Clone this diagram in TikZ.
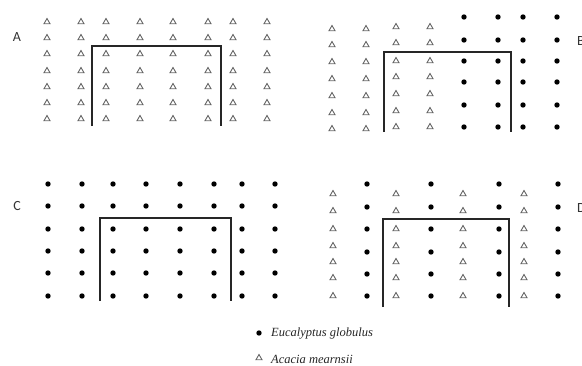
\documentclass[tikz,border=0pt]{standalone}
\usepackage{fontspec}
\setmainfont{Liberation Serif}
\newfontfamily\labelfont{Carlito}
\usetikzlibrary{shapes.geometric}
\tikzset{
  euc/.style={circle,fill=black,inner sep=0pt,minimum size=5.4pt},
  aca/.style={regular polygon,regular polygon sides=3,draw=black!60,line width=0.9pt,inner sep=0pt,minimum size=7pt},
  plot/.style={draw=black!85,line width=2.5pt,line cap=butt},
  panel/.style={font=\labelfont\fontsize{14}{16}\selectfont,text=black!80,inner sep=0pt},
  legend/.style={font=\itshape\fontsize{12.5}{15}\selectfont,anchor=west,inner sep=0pt,text=black!85}
}
\begin{document}
\begin{tikzpicture}[x=1pt,y=-1pt]
\useasboundingbox (0,0) rectangle (582,365);
\clip (0,0) rectangle (582,365);
% panel A: all Acacia
\foreach \x in {47,81,106,140,173,208,233,267}
  \foreach \y in {22,38,54,71,87,103,119}
    \node[aca] at (\x,\y) {};
\draw[plot] (92,126) |- (221,46) -- (221,126);
\node[panel] (labA) at (17,37) {A};
% panel B: Acacia on the left, Eucalyptus on the right
\foreach \x in {332,366}
  \foreach \y in {29,45,62,79,96,113,129}
    \node[aca] at (\x,\y) {};
\foreach \x in {396,430}
  \foreach \y in {27,43,61,77,94,111,127}
    \node[aca] at (\x,\y) {};
\foreach \x in {464,498,523,557}
  \foreach \y in {17,40,61,82,105,127}
    \node[euc] at (\x,\y) {};
\draw[plot] (384,132) |- (511,52) -- (511,132);
\node[panel,anchor=west] (labB) at (577,41) {B};
% panel C: all Eucalyptus
\foreach \x in {48,82,113,146,180,214,242,275}
  \foreach \y in {184,206,229,251,273,296}
    \node[euc] at (\x,\y) {};
\draw[plot] (100,301) |- (231,218) -- (231,301);
\node[panel] (labC) at (17,206) {C};
% panel D: alternating columns
\foreach \x in {333,396,463,524}
  \foreach \y in {194,211,229,246,262,278,296}
    \node[aca] at (\x,\y) {};
\foreach \x in {367,431,499,558}
  \foreach \y in {184,207,229,252,274,296}
    \node[euc] at (\x,\y) {};
\draw[plot] (383,307) |- (509,219) -- (509,307);
\node[panel,anchor=west] (labD) at (577,208) {D};
% legend
\node[euc] (keyE) at (259,333) {};
\node[legend] (txtE) at (271,334) {Eucalyptus globulus};
\node[aca] (keyA) at (259,358) {};
\node[legend] (txtA) at (271,359) {Acacia mearnsii};
\end{tikzpicture}
\end{document}
